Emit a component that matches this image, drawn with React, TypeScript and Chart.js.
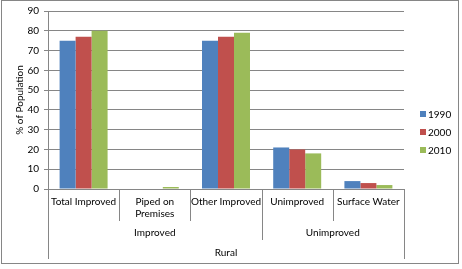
import React, { useEffect, useRef } from "react";
import { Chart, registerables } from "chart.js";

Chart.register(...registerables);

const categories: (string | string[])[] = [
  "Total Improved",
  ["Piped on", "Premises"],
  "Other Improved",
  "Unimproved",
  "Surface Water",
];
const seriesLabels = ["1990", "2000", "2010"];
const values1990 = [75, 0, 75, 21, 4];
const values2000 = [77, 0, 77, 20, 3];
const values2010 = [80, 1, 79, 18, 2];
const seriesColors = ["#4F81BD", "#C0504D", "#9BBB59"];
const groups = [
  { label: "Improved", from: 0, to: 2 },
  { label: "Unimproved", from: 3, to: 4 },
];
const topGroup = "Rural";
const yTitle = "% of Population";
const yMin = 0;
const yMax = 90;
const yStep = 10;

const FONT = "Lato, 'Liberation Sans', sans-serif";
const LINE = "#868686";

const decorPlugin = {
  id: "decor",
  afterDraw(chart: any) {
    const ctx = chart.ctx;
    const x = chart.scales.x;
    const area = chart.chartArea;
    const n = chart.data.labels.length;
    const edge = (i: number) => {
      if (i <= 0) return area.left;
      if (i >= n) return area.right;
      return (x.getPixelForValue(i - 1) + x.getPixelForValue(i)) / 2;
    };
    const yb = area.bottom;
    ctx.save();
    ctx.strokeStyle = LINE;
    ctx.lineWidth = 1;
    const vline = (px: number, y2: number) => {
      const xx = Math.round(px) + 0.5;
      ctx.beginPath();
      ctx.moveTo(xx, yb);
      ctx.lineTo(xx, y2);
      ctx.stroke();
    };
    const groupEdges = new Set<number>();
    groups.forEach((g) => {
      groupEdges.add(g.from);
      groupEdges.add(g.to + 1);
    });
    for (let i = 0; i <= n; i++) {
      if (i === 0 || i === n) vline(edge(i), yb + 70);
      else if (groupEdges.has(i)) vline(edge(i), yb + 51);
      else vline(edge(i), yb + 32);
    }
    ctx.fillStyle = "#000";
    ctx.font = `10px ${FONT}`;
    ctx.textAlign = "center";
    ctx.textBaseline = "middle";
    groups.forEach((g) => {
      const cx = (edge(g.from) + edge(g.to + 1)) / 2;
      ctx.fillText(g.label, cx, yb + 44);
    });
    ctx.fillText(topGroup, (edge(0) + edge(n)) / 2, yb + 64);

    // legend
    const lx = 420;
    const ly0 = 114;
    ctx.textAlign = "left";
    chart.data.datasets.forEach((ds: any, i: number) => {
      const cy = ly0 + i * 18;
      ctx.fillStyle = ds.backgroundColor;
      ctx.fillRect(lx, cy - 3, 6, 6);
      ctx.fillStyle = "#000";
      ctx.fillText(ds.label, lx + 8, cy + 0.5);
    });

    // outer border
    ctx.strokeStyle = LINE;
    ctx.strokeRect(1.5, 0.5, 457, 263);
    ctx.restore();
  },
};

export default function App() {
  const ref = useRef<HTMLCanvasElement>(null);
  useEffect(() => {
    if (!ref.current) return;
    const seriesValues = [values1990, values2000, values2010];
    const chart = new Chart(ref.current, {
      type: "bar",
      data: {
        labels: categories,
        datasets: seriesLabels.map((l, i) => ({
          label: l,
          data: seriesValues[i],
          backgroundColor: seriesColors[i],
          borderWidth: 0,
          barPercentage: 1,
          categoryPercentage: 0.674,
        })),
      },
      plugins: [decorPlugin],
      options: {
        responsive: false,
        animation: false,
        devicePixelRatio: 1,
        layout: { padding: { top: 11, right: 58, bottom: 0, left: 0 } },
        plugins: {
          legend: { display: false },
          tooltip: { enabled: false },
        },
        scales: {
          x: {
            afterFit: (s: any) => {
              s.height = 80;
            },
            grid: { display: false, drawOnChartArea: false, drawTicks: false },
            border: { display: true, color: LINE, width: 1 },
            ticks: {
              autoSkip: false,
              maxRotation: 0,
              minRotation: 0,
              padding: 7,
              color: "#000",
              font: { family: FONT, size: 10, lineHeight: 1.2 },
            },
          },
          y: {
            min: yMin,
            max: yMax,
            afterFit: (s: any) => {
              s.width = 48;
            },
            grid: { color: LINE, lineWidth: 1, tickLength: 4, drawTicks: true },
            border: { display: true, color: LINE, width: 1 },
            ticks: {
              stepSize: yStep,
              padding: 5,
              color: "#000",
              font: { family: FONT, size: 10 },
            },
            title: {
              display: true,
              text: yTitle,
              color: "#000",
              padding: 14,
              font: { family: FONT, size: 10, lineHeight: 1.2 },
            },
          },
        },
      },
    });
    return () => chart.destroy();
  }, []);
  return (
    <div style={{ position: "absolute", left: 0, top: 0, width: 462, height: 269, background: "#fff" }}>
      <canvas ref={ref} width={462} height={269} style={{ display: "block" }} />
    </div>
  );
}
